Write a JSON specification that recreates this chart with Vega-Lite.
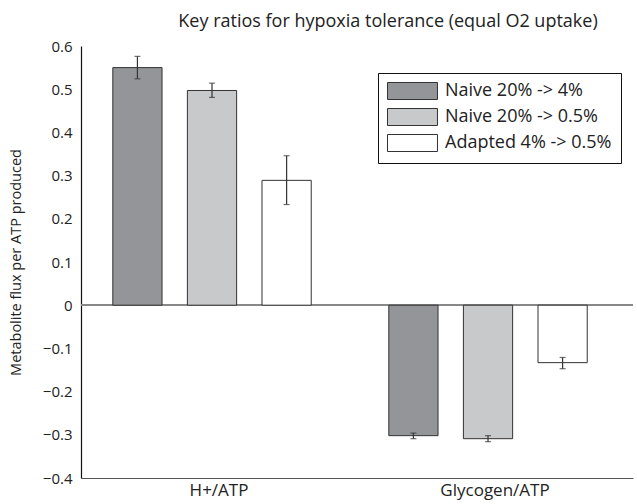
{
  "$schema": "https://vega.github.io/schema/vega-lite/v6.json",
  "width": 552,
  "height": 432,
  "autosize": {"type": "none"},
  "padding": {"left": 81, "top": 46, "right": 4, "bottom": 26},
  "background": "white",
  "config": {
    "view": {"stroke": null},
    "font": "Open Sans"
  },
  "title": {
    "text": "Key ratios for hypoxia tolerance (equal O2 uptake)",
    "fontSize": 18,
    "fontWeight": "normal",
    "font": "Open Sans",
    "color": "#222",
    "anchor": "middle",
    "dx": 31,
    "offset": 8
  },
  "data": {
    "values": [
      {"ratio": "H+/ATP", "condition": "Naive 20% -> 4%", "value": 0.55, "lo": 0.524, "hi": 0.576},
      {"ratio": "H+/ATP", "condition": "Naive 20% -> 0.5%", "value": 0.497, "lo": 0.481, "hi": 0.514},
      {"ratio": "H+/ATP", "condition": "Adapted 4% -> 0.5%", "value": 0.289, "lo": 0.233, "hi": 0.346},
      {"ratio": "Glycogen/ATP", "condition": "Naive 20% -> 4%", "value": -0.302, "lo": -0.309, "hi": -0.296},
      {"ratio": "Glycogen/ATP", "condition": "Naive 20% -> 0.5%", "value": -0.309, "lo": -0.316, "hi": -0.302},
      {"ratio": "Glycogen/ATP", "condition": "Adapted 4% -> 0.5%", "value": -0.133, "lo": -0.147, "hi": -0.121}
    ]
  },
  "encoding": {
    "x": {
      "field": "ratio",
      "type": "nominal",
      "sort": ["H+/ATP", "Glycogen/ATP"],
      "scale": {"paddingInner": 0, "paddingOuter": 0},
      "axis": {
        "title": null,
        "labelAngle": 0,
        "labelFontSize": 17,
        "labelColor": "#222",
        "labelPadding": 4,
        "ticks": false,
        "domainColor": "#555",
        "domainWidth": 1.2
      }
    },
    "xOffset": {
      "field": "condition",
      "type": "nominal",
      "sort": ["Naive 20% -> 4%", "Naive 20% -> 0.5%", "Adapted 4% -> 0.5%"],
      "scale": {"paddingInner": 0.34, "paddingOuter": 0.52, "align": 0.41}
    }
  },
  "layer": [
    {
      "mark": {"type": "rule", "color": "#888", "strokeWidth": 1.2},
      "encoding": {"y": {"datum": 0}, "x": null, "xOffset": null}
    },
    {
      "mark": {"type": "bar", "stroke": "#333", "strokeWidth": 1},
      "encoding": {
        "y": {
          "field": "value",
          "type": "quantitative",
          "scale": {"domain": [-0.4, 0.6], "nice": false, "zero": false},
          "axis": {
            "title": "Metabolite flux per ATP produced",
            "titleFontSize": 14.5,
            "titleFontWeight": "normal",
            "titleColor": "#222",
            "titlePadding": 19,
            "values": [-0.4, -0.3, -0.2, -0.1, 0, 0.1, 0.2, 0.3, 0.4, 0.5, 0.6],
            "labelExpr": "datum.value == 0 ? '0' : format(datum.value, '.1f')",
            "labelFontSize": 15,
            "labelColor": "#222",
            "labelPadding": 9,
            "ticks": false,
            "grid": false,
            "domainColor": "#111",
            "domainWidth": 1.2
          }
        },
        "color": {
          "field": "condition",
          "type": "nominal",
          "scale": {
            "domain": ["Naive 20% -> 4%", "Naive 20% -> 0.5%", "Adapted 4% -> 0.5%"],
            "range": ["#939598", "#c8c9cb", "#ffffff"]
          },
          "legend": {
            "title": null,
            "orient": "none",
            "legendX": 297,
            "legendY": 27,
            "direction": "vertical",
            "symbolType": "M-1,-1H4.88V1H-1Z",
            "symbolSize": 289,
            "symbolStrokeColor": "#333",
            "symbolStrokeWidth": 1,
            "symbolOpacity": 1,
            "labelFontSize": 18,
            "labelColor": "#222",
            "labelOffset": 40,
            "rowPadding": 4,
            "padding": 9,
            "strokeColor": "#111",
            "fillColor": "white",
            "labelLimit": 300
          }
        }
      }
    },
    {
      "mark": {"type": "rule", "color": "#333", "strokeWidth": 1.2},
      "encoding": {
        "y": {"field": "lo", "type": "quantitative"},
        "y2": {"field": "hi"}
      }
    },
    {
      "mark": {"type": "tick", "color": "#333", "thickness": 1.2, "size": 6, "orient": "horizontal"},
      "encoding": {"y": {"field": "lo", "type": "quantitative"}}
    },
    {
      "mark": {"type": "tick", "color": "#333", "thickness": 1.2, "size": 6, "orient": "horizontal"},
      "encoding": {"y": {"field": "hi", "type": "quantitative"}}
    }
  ]
}
